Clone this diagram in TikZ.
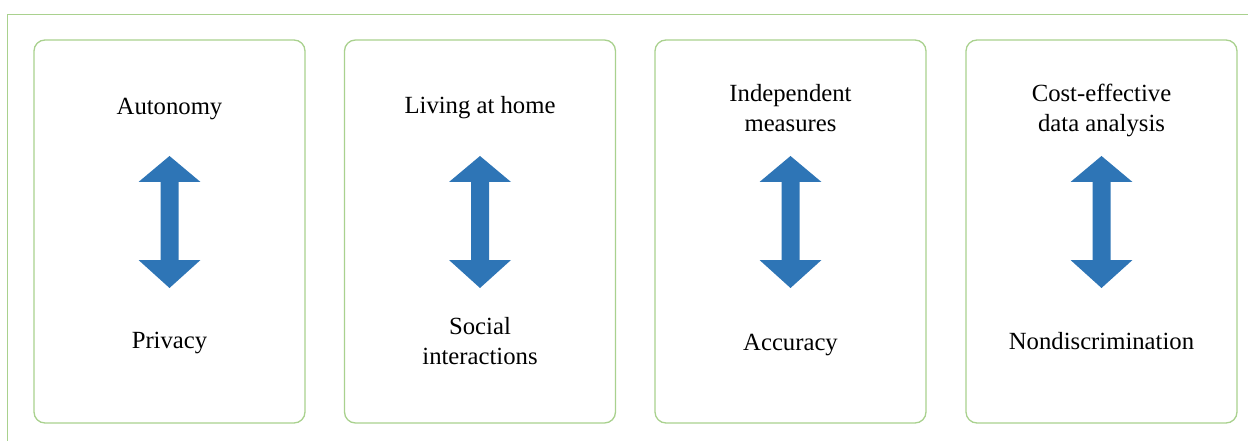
\documentclass[tikz,border=0pt]{standalone}
\usepackage{fontspec}
\setmainfont{Liberation Serif}
\definecolor{frameg}{HTML}{A9D18E}
\definecolor{arrowb}{HTML}{2E75B6}
\begin{document}
\begin{tikzpicture}[x=1pt,y=-1pt,
  panel/.style={draw=frameg,line width=1.3pt,rounded corners=11pt,minimum width=271pt,minimum height=383pt,inner sep=0pt},
  lbl/.style={align=center,font=\fontsize{24.7}{30}\selectfont,inner sep=0pt,text=black},
  dbl/.style={fill=arrowb,draw=none}]
\useasboundingbox (0,0) rectangle (1248,441);
\draw[frameg,line width=1.3pt] (1248,14.5) -- (7.5,14.5) -- (7.5,441);
\foreach \i/\c/\t/\ty/\b/\by in {1/169.5/Autonomy/109/Privacy/343,
  2/480/Living at home/108/Social\\interactions/341,
  3/790.5/Independent\\measures/108/Accuracy/345,
  4/1101.5/Cost-effective\\data analysis/110/Nondiscrimination/341}{
  \node[panel] (box\i) at (\c,231.5) {};
  \node[lbl] (top\i) at (\c,\ty) {\t};
  \node[lbl] (bot\i) at (\c,\by) {\b};
  \coordinate (ar\i) at (\c,222);
  \fill[arrowb] (ar\i) ++(0,-66) -- ++(31,26) -- ++(-22,0) -- ++(0,78) -- ++(22,0) -- ++(-31,28) -- ++(-31,-28) -- ++(22,0) -- ++(0,-78) -- ++(-22,0) -- cycle;
}
\end{tikzpicture}
\end{document}
